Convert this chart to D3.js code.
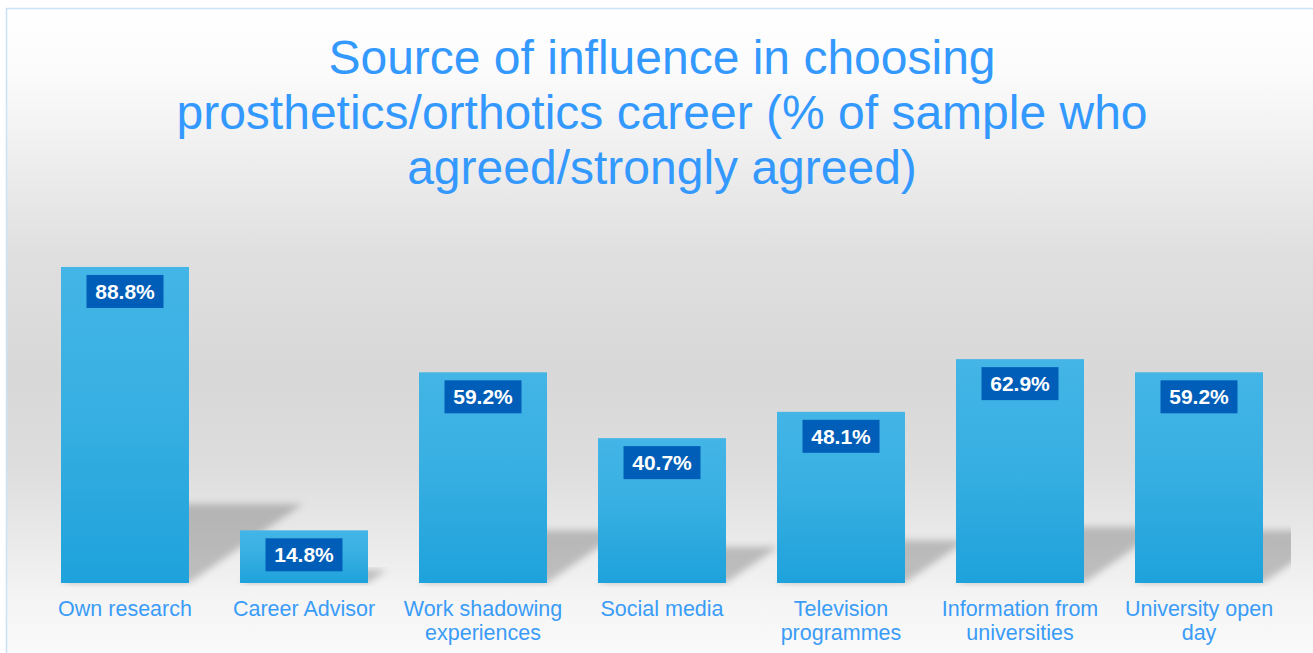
<!DOCTYPE html>
<html>
<head>
<meta charset="utf-8">
<script src="https://cdn.jsdelivr.net/npm/d3@7"></script>
<style>
  html, body { margin: 0; padding: 0; background: #fff; }
  svg { display: block; font-family: "Liberation Sans", Arial, sans-serif; }
</style>
</head>
<body>
<div id="chart"></div>
<script>
// data
var categories = ["Own research", "Career Advisor", "Work shadowing experiences", "Social media",
                  "Television programmes", "Information from universities", "University open day"];
var categoryLines = [["Own research"], ["Career Advisor"], ["Work shadowing", "experiences"], ["Social media"],
                     ["Television", "programmes"], ["Information from", "universities"], ["University open", "day"]];
var values = [88.8, 14.8, 59.2, 40.7, 48.1, 62.9, 59.2];
var titleLines = ["Source of influence in choosing",
                  "prosthetics/orthotics career (% of sample who",
                  "agreed/strongly agreed)"];

var W = 1313, H = 653;
var base = 583;

var svg = d3.select("#chart").append("svg")
    .attr("width", W)
    .attr("height", H);

var defs = svg.append("defs");

var bg = defs.append("linearGradient")
    .attr("id", "bg").attr("x1", 0).attr("y1", 0).attr("x2", 0).attr("y2", 1);
[[0, "#ffffff"], [0.1, "#fbfbfb"], [0.38, "#dfdfdf"], [0.56, "#d8d8d8"], [0.7, "#dddddd"],
 [0.8, "#e8e8e8"], [0.9, "#f4f4f4"], [1, "#fbfbfb"]].forEach(function(s) {
  bg.append("stop").attr("offset", s[0]).attr("stop-color", s[1]);
});

var barGrad = defs.append("linearGradient")
    .attr("id", "bar").attr("x1", 0).attr("y1", 0).attr("x2", 0).attr("y2", 1);
barGrad.append("stop").attr("offset", 0).attr("stop-color", "#43b5e6");
barGrad.append("stop").attr("offset", 0.45).attr("stop-color", "#38afe2");
barGrad.append("stop").attr("offset", 1).attr("stop-color", "#1ea2db");

defs.append("filter").attr("id", "blur")
    .attr("x", "-20%").attr("y", "-20%").attr("width", "140%").attr("height", "140%")
  .append("feGaussianBlur").attr("stdDeviation", 3.5);

defs.append("clipPath").attr("id", "plotclip")
  .append("rect").attr("x", 0).attr("y", 0).attr("width", 1291).attr("height", base + 4);

/* frame */
svg.append("rect")
    .attr("x", 6.5).attr("y", 8.5)
    .attr("width", W).attr("height", H)
    .attr("fill", "url(#bg)")
    .attr("stroke", "#c9e2f8")
    .attr("stroke-width", 1.5);

/* scales */
var x = d3.scaleBand()
    .domain(categories)
    .range([35.5, 1288.5])
    .paddingInner(0.285)
    .paddingOuter(0.1425);

var y = d3.scaleLinear()
    .domain([0, 100])
    .range([base, 227.1]);

/* title */
svg.append("text")
    .attr("text-anchor", "middle")
    .attr("fill", "#3399ff")
    .style("font-size", "48px")
  .selectAll("tspan")
  .data(titleLines)
  .enter().append("tspan")
    .attr("x", 662)
    .attr("y", function(d, i) { return 74 + i * 55; })
    .text(function(d) { return d; });

/* cast shadows behind the bars */
svg.append("g")
    .attr("clip-path", "url(#plotclip)")
  .selectAll("path")
  .data(values)
  .enter().append("path")
    .attr("filter", "url(#blur)")
    .attr("fill", "#000")
    .attr("fill-opacity", 0.21)
    .attr("d", function(d, i) {
      var x0 = x(categories[i]), x1 = x0 + x.bandwidth();
      var h = base - y(d), dx = h * 0.36, dy = h * 0.25;
      return "M" + x0 + "," + base + "L" + x1 + "," + base +
             "L" + (x1 + dx) + "," + (base - dy) + "L" + (x0 + dx) + "," + (base - dy) + "Z";
    });

/* bars */
svg.append("g")
  .selectAll("rect")
  .data(values)
  .enter().append("rect")
    .attr("x", function(d, i) { return x(categories[i]); })
    .attr("y", function(d) { return y(d); })
    .attr("width", x.bandwidth())
    .attr("height", function(d) { return base - y(d); })
    .attr("fill", "url(#bar)");

/* value labels */
var lab = svg.append("g")
  .selectAll("g")
  .data(values)
  .enter().append("g")
    .attr("transform", function(d, i) {
      return "translate(" + (x(categories[i]) + x.bandwidth() / 2) + "," + (y(d) + 8) + ")";
    });

lab.append("rect")
    .attr("x", -38.5).attr("y", 0)
    .attr("width", 77).attr("height", 33)
    .attr("fill", "#005eb8");

lab.append("text")
    .attr("text-anchor", "middle")
    .attr("y", 24)
    .attr("fill", "#fff")
    .style("font-size", "21px")
    .style("font-weight", "bold")
    .text(function(d) { return d.toFixed(1) + "%"; });

/* category axis */
var axis = svg.append("g")
    .attr("transform", "translate(0," + base + ")")
    .call(d3.axisBottom(x).tickSize(0).tickFormat(""));
axis.select(".domain").remove();

axis.selectAll(".tick text").remove();
axis.selectAll(".tick").append("text")
    .attr("text-anchor", "middle")
    .attr("fill", "#3a9cf6")
    .style("font-size", "21.5px")
  .selectAll("tspan")
  .data(function(d) { return categoryLines[categories.indexOf(d)]; })
  .enter().append("tspan")
    .attr("x", 0)
    .attr("y", function(d, i) { return 33 + i * 24; })
    .text(function(d) { return d; });
</script>
</body>
</html>
